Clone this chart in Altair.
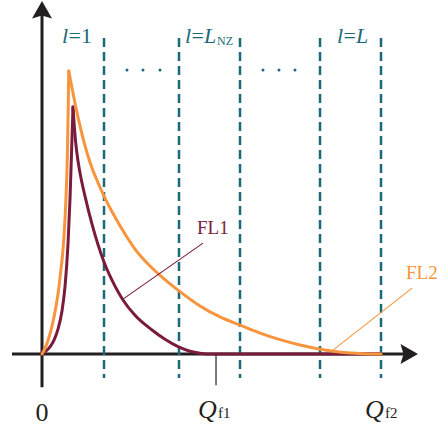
import altair as alt
import pandas as pd

# ---------------- data ----------------
# FL2 (orange) curve: rising branch and decaying branch
fl2_rise_q = [0, 0.118, 0.236, 0.354, 0.472, 0.560, 0.619, 0.678, 0.723, 0.752, 0.773, 0.788]
fl2_rise_v = [0, 0.028, 0.071, 0.131, 0.212, 0.300, 0.367, 0.477, 0.601, 0.724, 0.866, 1.0]
fl2_decay_q = [0.788, 0.885, 1.003, 1.121, 1.239, 1.357, 1.475, 1.593, 1.829, 2.153, 2.448,
               2.743, 3.186, 3.540, 4.012, 4.661, 5.251, 5.841, 6.431, 7.021, 7.611,
               8.171, 8.584, 9.086, 10.0]
fl2_decay_v = [1.0, 0.940, 0.869, 0.806, 0.749, 0.700, 0.657, 0.622, 0.558, 0.484, 0.424,
               0.371, 0.311, 0.272, 0.226, 0.170, 0.131, 0.102, 0.074, 0.051, 0.032,
               0.018, 0.010, 0.004, 0.0]

# FL1 (dark red) curve
fl1_rise_q = [0, 0.118, 0.236, 0.354, 0.472, 0.590, 0.678, 0.767, 0.826, 0.870, 0.914]
fl1_rise_v = [0, 0.011, 0.025, 0.049, 0.088, 0.152, 0.237, 0.389, 0.548, 0.707, 0.873]
fl1_decay_q = [0.914, 0.959, 1.003, 1.062, 1.150, 1.268, 1.475, 1.829, 2.153, 2.389, 2.743,
               3.245, 3.628, 4.012, 4.366, 4.661, 5.0, 10.0]
fl1_decay_v = [0.873, 0.795, 0.737, 0.682, 0.622, 0.558, 0.459, 0.325, 0.240, 0.191, 0.137,
               0.085, 0.052, 0.026, 0.010, 0.003, 0.0, 0.0]

# zone boundaries (dashed lines) and Q marks
zone_q = [1.829, 4.041, 5.841, 8.201, 10.0]
dots_q = [2.507, 2.979, 3.481, 6.519, 6.991, 7.463]
q_f1 = 5.133
q_f2 = 10.0

# ---------------- style ----------------
ORANGE = "#F7943E"
RED = "#7B1B3B"
TEAL = "#1B6A7A"
BLACK = "#231F20"
SERIF = "Liberation Serif"

XD = [-1.239, 11.681]
YD = [-0.279, 1.251]
X = lambda f="x": alt.X(f"{f}:Q", scale=alt.Scale(domain=XD, nice=False, zero=False), axis=None)
Y = lambda f="y": alt.Y(f"{f}:Q", scale=alt.Scale(domain=YD, nice=False, zero=False), axis=None)


def curve(qr, vr, qd, vd, color):
    df = pd.DataFrame({
        "x": qr + qd,
        "y": vr + vd,
        "branch": ["rise"] * len(qr) + ["decay"] * len(qd),
        "i": list(range(len(qr) + len(qd))),
    })
    return alt.Chart(df).mark_line(
        color=color, strokeWidth=3, interpolate="monotone",
        strokeCap="round", strokeJoin="round"
    ).encode(x=X(), y=Y(), detail="branch:N", order="i:Q")


def rule(x1, x2, y1, y2, color, width, dash=None):
    df = pd.DataFrame({"x": [x1], "x2": [x2], "y": [y1], "y2": [y2]})
    kw = dict(color=color, strokeWidth=width)
    if dash:
        kw["strokeDash"] = dash
    return alt.Chart(df).mark_rule(**kw).encode(x=X(), x2="x2:Q", y=Y(), y2="y2:Q")


def text(x, y, t, size, color, italic=False, align="left"):
    df = pd.DataFrame({"x": [x], "y": [y], "t": [t]})
    kw = dict(align=align, baseline="alphabetic", font=SERIF, fontSize=size, color=color)
    if italic:
        kw["fontStyle"] = "italic"
    return alt.Chart(df).mark_text(**kw).encode(x=X(), y=Y(), text="t:N")


layers = []
# axes
layers.append(rule(0, 0, -0.117, 1.2, BLACK, 3))
layers.append(rule(-0.885, 10.7, 0, 0, BLACK, 3))
# Q_f1 tick
layers.append(rule(q_f1, q_f1, 0, -0.110, BLACK, 1.2))
# dashed zone lines
zdf = pd.DataFrame({"x": zone_q, "y": [1.117] * len(zone_q), "y2": [-0.085] * len(zone_q)})
layers.append(alt.Chart(zdf).mark_rule(color=TEAL, strokeWidth=2.5, strokeDash=[9, 5]).encode(
    x=X(), y=Y(), y2="y2:Q"))
# dots
ddf = pd.DataFrame({"x": dots_q, "y": [1.004] * len(dots_q)})
layers.append(alt.Chart(ddf).mark_circle(color=TEAL, size=9, opacity=1).encode(x=X(), y=Y()))
# curves
layers.append(curve(fl1_rise_q, fl1_rise_v, fl1_decay_q, fl1_decay_v, RED))
layers.append(curve(fl2_rise_q, fl2_rise_v, fl2_decay_q, fl2_decay_v, ORANGE))
# leader lines
layers.append(rule(2.389, 4.749, 0.194, 0.392, RED, 1.1))
layers.append(rule(8.584, 10.914, 0.014, 0.233, ORANGE, 1.1))
# arrow heads
up = "M0,-1L1,0.75L0,0.45L-1,0.75Z"
right = "M1,0L-0.75,-1L-0.45,0L-0.75,1Z"
layers.append(alt.Chart(pd.DataFrame({"x": [0], "y": [1.212]})).mark_point(
    shape=up, size=400, filled=True, color=BLACK, opacity=1, strokeWidth=0).encode(x=X(), y=Y()))
layers.append(alt.Chart(pd.DataFrame({"x": [10.796], "y": [0]})).mark_point(
    shape=right, size=400, filled=True, color=BLACK, opacity=1, strokeWidth=0).encode(x=X(), y=Y()))

# zone labels
LY = 1.099
layers += [
    text(0.590, LY, "l", 22, TEAL, italic=True),
    text(0.782, LY, "=1", 22, TEAL),
    text(4.218, LY, "l", 22, TEAL, italic=True),
    text(4.410, LY, "=", 22, TEAL),
    text(4.779, LY, "L", 22, TEAL, italic=True),
    text(5.162, 1.092, "NZ", 12, TEAL),
    text(8.702, LY, "l", 22, TEAL, italic=True),
    text(8.894, LY, "=", 22, TEAL),
    text(9.263, LY, "L", 22, TEAL, italic=True),
]
# axis labels
layers += [
    text(0, -0.237, "0", 26, BLACK, align="center"),
    text(4.602, -0.226, "Q", 26, BLACK, italic=True),
    text(5.192, -0.226, "f1", 15, BLACK),
    text(9.528, -0.226, "Q", 26, BLACK, italic=True),
    text(10.118, -0.226, "f2", 15, BLACK),
]
# series labels
layers += [
    text(4.572, 0.424, "FL1", 19, RED),
    text(10.737, 0.265, "FL2", 19, ORANGE),
]

chart = alt.layer(*layers).properties(
    width=438, height=433,
    autosize=alt.AutoSizeParams(type="none"),
    padding=0,
    background="white",
).configure_view(stroke=None)

chart.save("out.html", embed_options={"renderer": "svg", "actions": False})
